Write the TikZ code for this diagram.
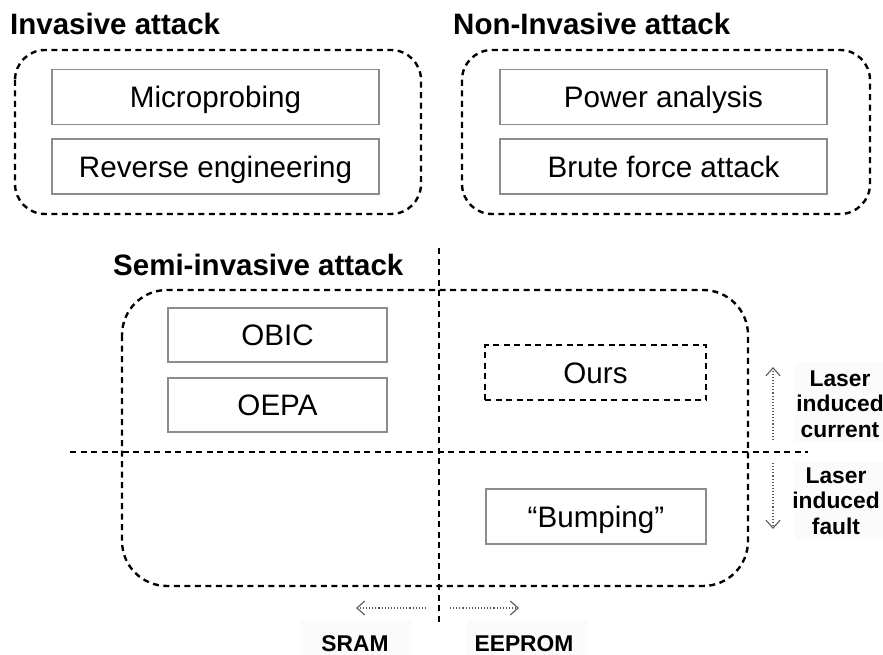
\documentclass[tikz,border=0pt]{standalone}
\usepackage{fontspec}
\setmainfont{Liberation Sans}
\usetikzlibrary{arrows.meta}
\begin{document}
\begin{tikzpicture}[x=1pt,y=-1pt,
  group/.style={draw=black, line width=2.4pt, dash pattern=on 6pt off 4.5pt, rounded corners=#1},
  group/.default=30pt,
  item/.style={draw=black!45, line width=1.3pt, minimum width=327pt, minimum height=55pt,
    font=\fontsize{29.6}{34}\selectfont, inner sep=0pt, text height=21.2pt, text depth=0pt},
  ourbox/.style={draw=black, line width=2.4pt, dash pattern=on 6pt off 4.5pt,
    minimum width=221pt, minimum height=55pt, font=\fontsize{29.6}{34}\selectfont, inner sep=0pt,
    text height=21.2pt, text depth=0pt},
  title/.style={font=\bfseries\fontsize{29.5}{34}\selectfont, anchor=west, inner sep=0pt},
  side/.style={font=\bfseries\fontsize{22.8}{25.5}\selectfont, align=center, inner sep=0pt},
  labelbg/.style={fill=black!1.5, draw=none},
  divider/.style={draw=black, line width=2.4pt, dash pattern=on 6pt off 4.5pt},
  hint/.style={draw=black!65, line width=1.1pt, dotted, -{Straight Barb[length=8pt,width=14pt,line width=1.1pt]}}
]
\useasboundingbox (0,0) rectangle (883,655);

% faint label backgrounds
\fill[labelbg] (300,620) rectangle (412,655);
\fill[labelbg] (467,620) rectangle (588,655);
\fill[labelbg] (795,362) rectangle (883,442);
\fill[labelbg] (795,462) rectangle (883,540);

% Invasive attack
\node[title] (tinv) at (10,24) {Invasive attack};
\draw[group] (15,50) rectangle (421,214);
\node[item] (micro) at (215.5,97) {Microprobing};
\node[item] (rev) at (215.5,166.5) {Reverse engineering};

% Non-invasive attack
\node[title] (tnon) at (453,24) {Non-Invasive attack};
\draw[group] (462,50) rectangle (870,214);
\node[item] (power) at (663.5,97) {Power analysis};
\node[item] (brute) at (663.5,166.5) {Brute force attack};

% Semi-invasive attack
\node[title] (tsemi) at (113,265) {Semi-invasive attack};
\draw[group=45pt] (122,290) rectangle (748,586);
\node[item, minimum width=219pt, minimum height=54pt] (obic) at (277.5,335) {OBIC};
\node[item, minimum width=219pt, minimum height=54pt] (oepa) at (277.5,405) {OEPA};
\node[ourbox] (ours) at (595.5,372.5) {Ours};
\node[item, minimum width=220pt] (bump) at (596,516.5) {“Bumping”};

% quadrant dividers
\coordinate (vtop) at (439,248);
\coordinate (vbot) at (439,622);
\coordinate (hleft) at (70,452);
\coordinate (hright) at (808,452);
\draw[divider] (vtop) -- (vbot);
\draw[divider] (hleft) -- (hright);

% laser effect axis
\coordinate (upfrom) at (773,440);
\coordinate (upto) at (773,367);
\coordinate (dnfrom) at (773,463);
\coordinate (dnto) at (773,529);
\draw[hint] (upfrom) -- (upto);
\draw[hint] (dnfrom) -- (dnto);
\node[side] (lic) at (840,404) {Laser\\induced\\current};
\node[side] (lif) at (836,501) {Laser\\induced\\fault};

% memory axis
\coordinate (lfrom) at (426,608);
\coordinate (lto) at (356,608);
\coordinate (rfrom) at (450,608);
\coordinate (rto) at (519,608);
\draw[hint] (lfrom) -- (lto);
\draw[hint] (rfrom) -- (rto);
\node[side] (sram) at (355,644) {SRAM};
\node[side] (eeprom) at (524,644) {EEPROM};
\end{tikzpicture}
\end{document}
